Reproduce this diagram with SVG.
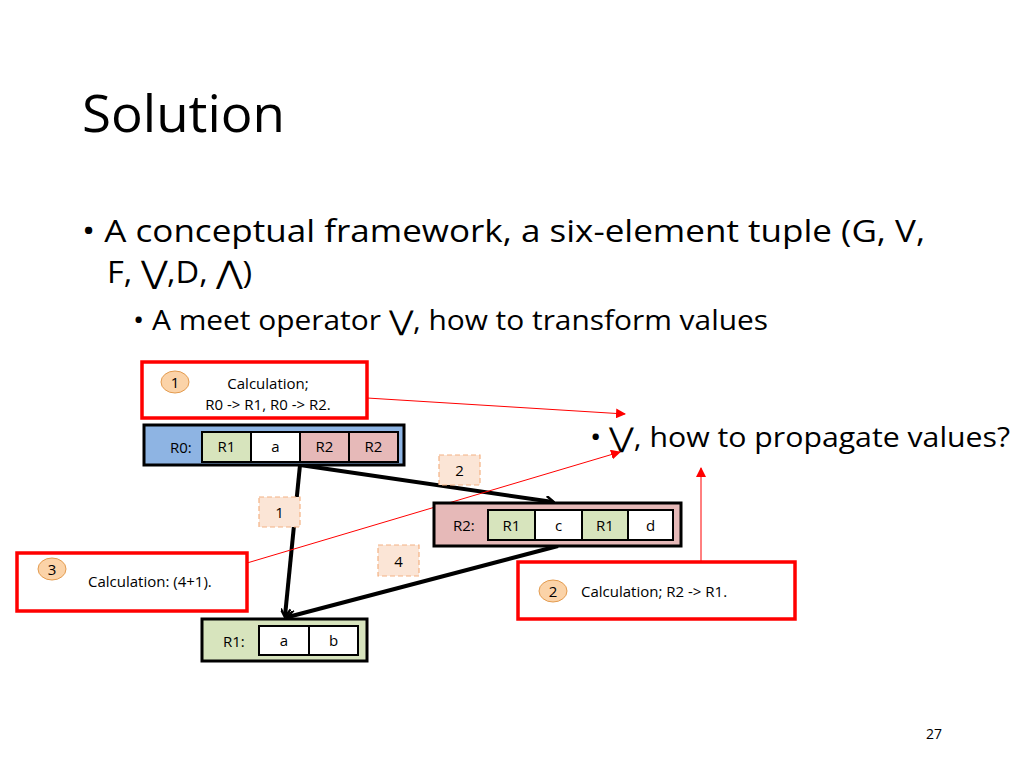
<svg xmlns="http://www.w3.org/2000/svg" width="1024" height="768" viewBox="0 0 1024 768">
<style>
text{font-family:"Open Sans","Liberation Sans",sans-serif;fill:#000}
.s{font-size:15px}
.m{font-size:15px;text-anchor:middle}
.red{fill:#fff;stroke:#ff0000;stroke-width:3.5}
.badge{fill:#fbd3a8;stroke:#e39b4f;stroke-width:1}
.lbl{fill:#fbe5d6;stroke:#f4b183;stroke-width:1.2;stroke-dasharray:5,3}
.cell{stroke:#000;stroke-width:2}
.node{stroke:#000;stroke-width:3}
.blk{stroke:#000;stroke-width:4;fill:none;marker-end:url(#ob)}
.rl{stroke:#ff0000;stroke-width:1;fill:none;marker-end:url(#rb)}
</style>
<defs>
<marker id="ob" markerWidth="10" markerHeight="10" refX="8" refY="5" orient="auto" markerUnits="userSpaceOnUse" viewBox="0 0 10 10"><path d="M1,0 L9,5 L1,10" fill="none" stroke="#000" stroke-width="2.5"/></marker>
<marker id="rb" markerWidth="10" markerHeight="10" refX="9" refY="5" orient="auto" markerUnits="userSpaceOnUse" viewBox="0 0 10 10"><path d="M0,0 L10,5 L0,10 z" fill="#ff0000"/></marker>
</defs>
<rect width="1024" height="768" fill="#fff"/>
<text x="82" y="132" font-size="52" fill="#262626" textLength="203" lengthAdjust="spacingAndGlyphs">Solution</text>
<text x="82" y="242" font-size="31" textLength="843" lengthAdjust="spacingAndGlyphs">• A conceptual framework, a six-element tuple (G, V,</text>
<text x="107" y="283" font-size="31" textLength="145" lengthAdjust="spacingAndGlyphs">F, ⋁,D, ⋀)</text>
<text x="133" y="330" font-size="27" textLength="635" lengthAdjust="spacingAndGlyphs">• A meet operator ⋁, how to transform values</text>
<text x="590" y="447" font-size="27" textLength="420" lengthAdjust="spacingAndGlyphs">• ⋁, how to propagate values?</text>
<text x="934" y="739" font-size="14" fill="#888" text-anchor="middle">27</text>

<g id="connectors">
<line class="blk" x1="300" y1="465" x2="553" y2="502"/>
<line class="blk" x1="300" y1="465" x2="285" y2="616"/>
<line class="blk" x1="558" y1="546" x2="288" y2="617"/>
<line class="rl" x1="367" y1="398" x2="625" y2="414"/>
<line class="rl" x1="247" y1="563" x2="620" y2="452"/>
<line class="rl" x1="701" y1="562" x2="701" y2="468"/>
</g>

<g id="lbl2"><rect class="lbl" x="439" y="455" width="41" height="30"/><text class="m" x="459.5" y="476">2</text></g>
<g id="lbl1"><rect class="lbl" x="259" y="497" width="41" height="30"/><text class="m" x="279.5" y="518">1</text></g>
<g id="lbl4"><rect class="lbl" x="378" y="545" width="41" height="31"/><text class="m" x="398.5" y="567">4</text></g>

<g id="calc1">
<rect class="red" x="142" y="362" width="225" height="56"/>
<ellipse class="badge" cx="175" cy="382" rx="14" ry="11"/><text class="m" x="175" y="388">1</text>
<text class="m" x="268" y="389">Calculation;</text>
<text class="m" x="268" y="410">R0 -&gt; R1, R0 -&gt; R2.</text>
</g>
<g id="calc2">
<rect class="red" x="518" y="562" width="277" height="57"/>
<ellipse class="badge" cx="553" cy="591" rx="14" ry="11"/><text class="m" x="553" y="597">2</text>
<text class="s" x="581" y="597">Calculation; R2 -&gt; R1.</text>
</g>
<g id="calc3">
<rect class="red" x="17" y="553" width="230" height="58"/>
<ellipse class="badge" cx="52" cy="569" rx="14" ry="11"/><text class="m" x="52" y="575">3</text>
<text class="s" x="88" y="587">Calculation: (4+1).</text>
</g>

<g id="R0">
<rect class="node" x="144" y="425" width="260" height="40" fill="#8eb4e3"/>
<text class="s" x="170" y="453">R0:</text>
<rect class="cell" x="202" y="432" width="49" height="30" fill="#d7e4bd"/><text class="m" x="226.5" y="452">R1</text>
<rect class="cell" x="251" y="432" width="49" height="30" fill="#fff"/><text class="m" x="275.5" y="452">a</text>
<rect class="cell" x="300" y="432" width="49" height="30" fill="#e6b9b8"/><text class="m" x="324.5" y="452">R2</text>
<rect class="cell" x="349" y="432" width="49" height="30" fill="#e6b9b8"/><text class="m" x="373.5" y="452">R2</text>
</g>
<g id="R2">
<rect class="node" x="434" y="503" width="247" height="43" fill="#e6b9b8"/>
<text class="s" x="453" y="531">R2:</text>
<rect class="cell" x="488" y="510" width="47" height="30" fill="#d7e4bd"/><text class="m" x="511.5" y="531">R1</text>
<rect class="cell" x="535" y="510" width="47" height="30" fill="#fff"/><text class="m" x="558.5" y="531">c</text>
<rect class="cell" x="582" y="510" width="46" height="30" fill="#d7e4bd"/><text class="m" x="605" y="531">R1</text>
<rect class="cell" x="628" y="510" width="45" height="30" fill="#fff"/><text class="m" x="650.5" y="531">d</text>
</g>
<g id="R1">
<rect class="node" x="202" y="619" width="165" height="42" fill="#d7e4bd"/>
<text class="s" x="223" y="647">R1:</text>
<rect class="cell" x="259" y="626" width="50" height="29" fill="#fff"/><text class="m" x="284" y="646">a</text>
<rect class="cell" x="309" y="626" width="49" height="29" fill="#fff"/><text class="m" x="333.5" y="646">b</text>
</g>
</svg>
